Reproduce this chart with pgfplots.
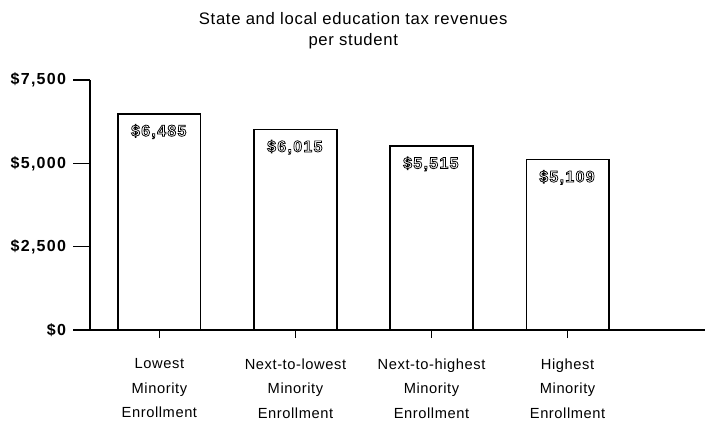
\documentclass[border=0pt]{standalone}
\usepackage{pgfplots}
\pgfplotsset{compat=1.18}
\usepackage{fontspec}
\setmainfont{Liberation Sans}[LetterSpace=4]
\newfontfamily\tickfont{Liberation Sans}[LetterSpace=8]
\newcommand{\outl}[1]{\textcolor{white}{\special{pdf:literal direct 0 G 0.55 w 2 Tr}#1\special{pdf:literal direct 0 Tr}}}
\begin{document}
\begin{tikzpicture}[x=1pt,y=1pt]
\path (-67.5,-68.25) rectangle (468,247.5);
\begin{axis}[
  at={(0,0)}, anchor=south west,
  scale only axis,
  width=461.25pt, height=187.5pt,
  xmin=-0.51, xmax=4.01,
  ymin=0, ymax=7500,
  axis x line=bottom, axis y line=left,
  axis line style={-, line width=1.3pt},
  ytick={0,2500,5000,7500},
  yticklabels={\textbf{\$0},\textbf{\$2,500},\textbf{\$5,000},\textbf{\$7,500}},
  yticklabel style={font=\tickfont\fontsize{12}{13}\selectfont, xshift=-7.5pt},
  y tick style={draw=none},
  xtick={0,1,2,3},
  xticklabels={Lowest\\Minority\\Enrollment, Next-to-lowest\\Minority\\Enrollment, Next-to-highest\\Minority\\Enrollment, Highest\\Minority\\Enrollment},
  xticklabel style={align=center, font=\fontsize{11}{18.3}\selectfont, yshift=-12pt},
  tick align=outside,
  major tick length=6pt,
  tick style={black, line width=1.1pt},
  ybar, bar width=62pt,
  clip=false,
  nodes near coords={\outl{\textbf{\pgfplotspointmeta}}},
  point meta=explicit symbolic,
  every node near coord/.append style={anchor=north, yshift=-4pt, font=\tickfont\fontsize{12}{13}\selectfont},
]
\addplot[draw=black, fill=white, line width=1.1pt] table[meta=lab] {
x y lab
0 6485 \$6,485
1 6015 \$6,015
2 5515 \$5,515
3 5109 \$5,109
};
\pgfplotsinvokeforeach{0,2500,5000,7500}{
  \draw[line width=1.1pt] ([xshift=-12.5pt]axis cs:-0.51,#1) -- (axis cs:-0.51,#1);
}
\node[align=center, font=\fontsize{12.5}{15.5}\selectfont] at (rel axis cs:0.428,1.196) {State and local education tax revenues\\per student};
\end{axis}
\end{tikzpicture}
\end{document}
